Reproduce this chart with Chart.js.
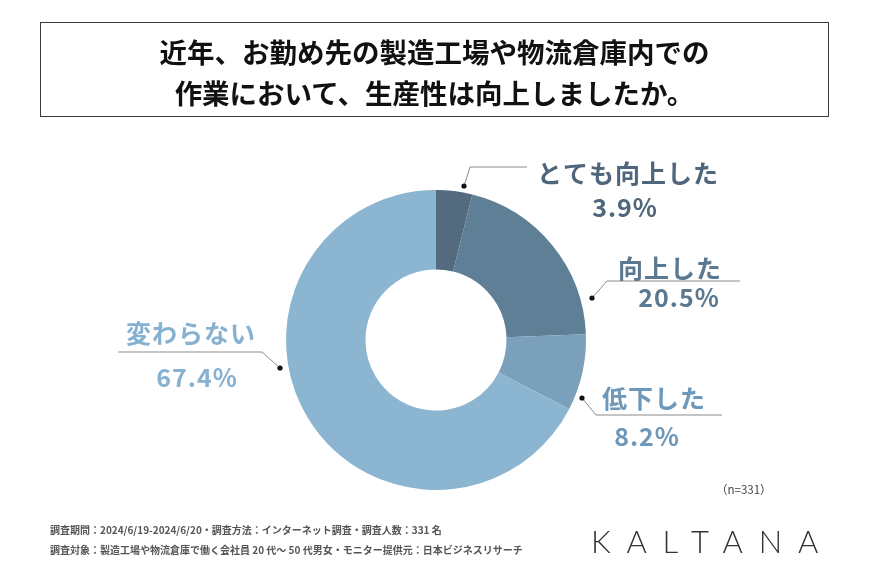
<!DOCTYPE html>
<html>
<head>
<meta charset="utf-8">
<script src="https://cdn.jsdelivr.net/npm/chart.js@4/dist/chart.umd.min.js"></script>
<style>
  html, body { margin: 0; padding: 0; background: #fff; }
  #wrap { position: relative; width: 870px; height: 571px; overflow: hidden; font-family: "Noto Sans CJK JP", "Noto Sans", sans-serif; }
  #titleBox {
    position: absolute; left: 40px; top: 22px; width: 787px; height: 85px;
    border: 1.5px solid #3a3a3a; text-align: center;
    font-weight: bold; font-size: 27.5px; line-height: 41px; color: #111;
    padding-top: 8px; box-sizing: content-box;
  }
  #chart { position: absolute; left: 0; top: 0; }
  .foot { position: absolute; left: 50px; font-size: 10px; font-weight: bold; color: #555; white-space: nowrap; }
  #n { position: absolute; left: 716px; top: 481px; font-size: 11.5px; color: #444; }
  #logo { position: absolute; left: 591px; top: 522px; font-family: "Lato", sans-serif; font-weight: 300; font-size: 31px; letter-spacing: 15.8px; color: #333; }
</style>
</head>
<body>
<div id="wrap">
  <canvas id="chart" width="870" height="571"></canvas>
  <div id="titleBox">近年、お勤め先の製造工場や物流倉庫内での<br>作業において、生産性は向上しましたか。</div>
  <div id="n">（n=331）</div>
  <div class="foot" style="top:522px">調査期間：2024/6/19-2024/6/20・調査方法：インターネット調査・調査人数：331 名</div>
  <div class="foot" style="top:542px">調査対象：製造工場や物流倉庫で働く会社員 20 代～ 50 代男女・モニター提供元：日本ビジネスリサーチ</div>
  <div id="logo">KALTANA</div>
</div>
<script>
const categories = ["とても向上した", "向上した", "低下した", "変わらない"];
const shares = [3.9, 20.5, 8.2, 67.4];
const sliceColors = ["#536a7f", "#5f7f96", "#7aa0bc", "#8cb5d2"];
const labelColors = ["#4f667c", "#5a7990", "#6d98ba", "#86b1d1"];

// leader / label layout, offsets from the donut centre
const callouts = [
  { dot: [28, -154], elbow: [34, -173], end: [91, -173], name: [192, -167], pct: [189, -133] },
  { dot: [156, -42], elbow: [171, -59], end: [304, -59], name: [234, -72], pct: [243, -43] },
  { dot: [146, 58], elbow: [160, 75], end: [286, 75], name: [218, 58], pct: [211, 96] },
  { dot: [-156, 28], elbow: [-174, 12], end: [-318, 12], name: [-245, -7], pct: [-239, 37] }
];

const calloutPlugin = {
  id: "callouts",
  afterDraw(chart) {
    const ctx = chart.ctx;
    const arc = chart.getDatasetMeta(0).data[0];
    const cx = arc.x, cy = arc.y;
    ctx.save();
    callouts.forEach((c, i) => {
      ctx.strokeStyle = "#8a8a8a";
      ctx.lineWidth = 1;
      ctx.beginPath();
      ctx.moveTo(cx + c.dot[0], cy + c.dot[1]);
      ctx.lineTo(cx + c.elbow[0], cy + c.elbow[1]);
      ctx.lineTo(cx + c.end[0], cy + c.end[1]);
      ctx.stroke();
      ctx.fillStyle = "#111";
      ctx.beginPath();
      ctx.arc(cx + c.dot[0], cy + c.dot[1], 2.6, 0, Math.PI * 2);
      ctx.fill();

      ctx.fillStyle = labelColors[i];
      ctx.textAlign = "center";
      ctx.textBaseline = "middle";
      ctx.font = "bold 25px 'Noto Sans CJK JP'";
      if (ctx.letterSpacing !== undefined) ctx.letterSpacing = "1px";
      ctx.fillText(categories[i], cx + c.name[0], cy + c.name[1]);
      ctx.fillText(shares[i].toFixed(1) + "%", cx + c.pct[0], cy + c.pct[1]);
    });
    ctx.restore();
  }
};

new Chart(document.getElementById("chart"), {
  type: "doughnut",
  data: {
    labels: categories,
    datasets: [{
      data: shares,
      backgroundColor: sliceColors,
      borderWidth: 0
    }]
  },
  options: {
    responsive: false,
    animation: false,
    cutout: "47%",
    layout: { padding: { left: 286, right: 284, top: 190, bottom: 81 } },
    plugins: { legend: { display: false }, tooltip: { enabled: false } }
  },
  plugins: [calloutPlugin]
});
</script>
</body>
</html>
